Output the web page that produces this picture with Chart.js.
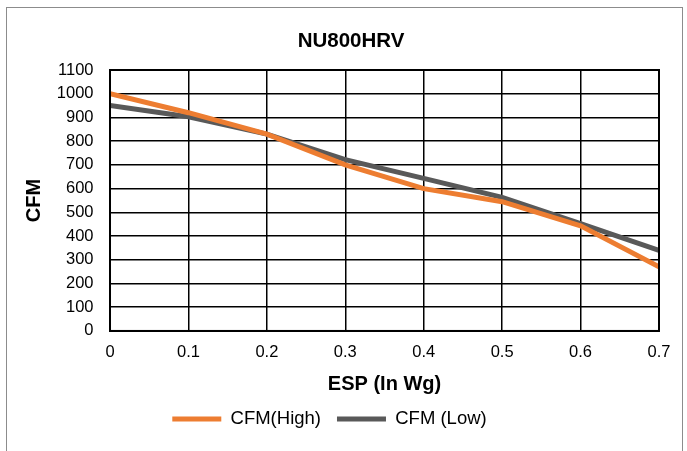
<!DOCTYPE html>
<html>
<head>
<meta charset="utf-8">
<script src="https://cdn.jsdelivr.net/npm/chart.js@4/dist/chart.umd.min.js"></script>
<style>
  body { margin: 0; background: #fff; }
  #frame { position: absolute; left: 6px; top: 7px; width: 677px; height: 450px; border: 1px solid #8c8c8c; box-sizing: border-box; }
  #wrap { position: absolute; left: 0; top: 0; width: 687px; height: 451px; }
</style>
</head>
<body>
<div id="frame"></div>
<div id="wrap"><canvas id="grafico"></canvas></div>
<script>
var espValues = [0, 0.1, 0.2, 0.3, 0.4, 0.5, 0.6, 0.7];
var cfmHigh = [1000, 920, 830, 700, 600, 545, 443, 270];
var cfmLow = [950, 903, 830, 722, 643, 563, 452, 340];

function toPoints(xs, ys) {
    return xs.map(function (x, i) { return { x: x, y: ys[i] }; });
}

function loadChartCfm() {
    var ctx = document.getElementById("grafico").getContext("2d");
    window.myLine = new Chart(ctx, {
        type: 'line',
        data: {
            datasets: [{
                label: 'CFM(High)',
                data: toPoints(espValues, cfmHigh),
                borderColor: 'rgb(237, 125, 49)',
                backgroundColor: 'rgb(237, 125, 49)',
                borderWidth: 5,
                borderCapStyle: 'round',
                pointRadius: 0,
                tension: 0
            }, {
                label: 'CFM (Low)',
                data: toPoints(espValues, cfmLow),
                borderColor: 'rgb(89, 89, 89)',
                backgroundColor: 'rgb(89, 89, 89)',
                borderWidth: 5,
                borderCapStyle: 'round',
                pointRadius: 0,
                tension: 0
            }]
        },
        options: {
            responsive: false,
            animation: false,
            layout: { padding: { left: 0, right: 28, top: 0, bottom: 12.75 } },
            plugins: {
                title: {
                    display: true,
                    text: 'NU800HRV',
                    color: '#000',
                    font: { family: 'Liberation Sans', size: 20.5, weight: 'bold' },
                    padding: { top: 28.7, bottom: 16.7 }
                },
                legend: {
                    position: 'bottom',
                    labels: {
                        usePointStyle: true,
                        pointStyle: 'line',
                        pointStyleWidth: 49,
                        color: '#000',
                        padding: 16,
                        font: { family: 'Liberation Sans', size: 18.5 }
                    }
                },
                tooltip: { enabled: false }
            },
            scales: {
                x: {
                    type: 'linear',
                    min: 0,
                    max: 0.7,
                    ticks: {
                        stepSize: 0.1,
                        autoSkip: false,
                        maxRotation: 0,
                        color: '#000',
                        padding: 12,
                        font: { family: 'Liberation Sans', size: 16.5 },
                        callback: function (v) { return String(Math.round(v * 10) / 10); }
                    },
                    grid: { color: '#000', lineWidth: 1.5, drawTicks: false },
                    border: { color: '#000', width: 2 },
                    title: {
                        display: true,
                        text: 'ESP (In Wg)',
                        color: '#000',
                        font: { family: 'Liberation Sans', size: 20, weight: 'bold' },
                        padding: { top: -2, bottom: -3 }
                    }
                },
                y: {
                    min: 0,
                    max: 1100,
                    ticks: {
                        stepSize: 100,
                        autoSkip: false,
                        color: '#000',
                        padding: 16.5,
                        font: { family: 'Liberation Sans', size: 16.5 },
                        callback: function (v) { return String(v); }
                    },
                    grid: { color: '#000', lineWidth: 1.5, drawTicks: false },
                    border: { color: '#000', width: 2 },
                    title: {
                        display: true,
                        text: 'CFM',
                        color: '#000',
                        font: { family: 'Liberation Sans', size: 20, weight: 'bold' },
                        padding: { top: 22, bottom: -5.7 }
                    }
                }
            }
        },
        plugins: [{
            id: 'titleShift',
            afterLayout: function (chart) {
                // chart title sits a bit right of the canvas centre
                if (chart.titleBlock) chart.titleBlock.left += 43;
            }
        }, {
            id: 'plotOutline',
            afterDraw: function (chart) {
                var a = chart.chartArea, c = chart.ctx;
                c.save();
                c.strokeStyle = '#000';
                c.lineWidth = 2;
                c.strokeRect(a.left, a.top, a.right - a.left, a.bottom - a.top);
                c.restore();
            }
        }]
    });
}

document.getElementById("grafico").width = 687;
document.getElementById("grafico").height = 451;
loadChartCfm();
</script>
</body>
</html>
